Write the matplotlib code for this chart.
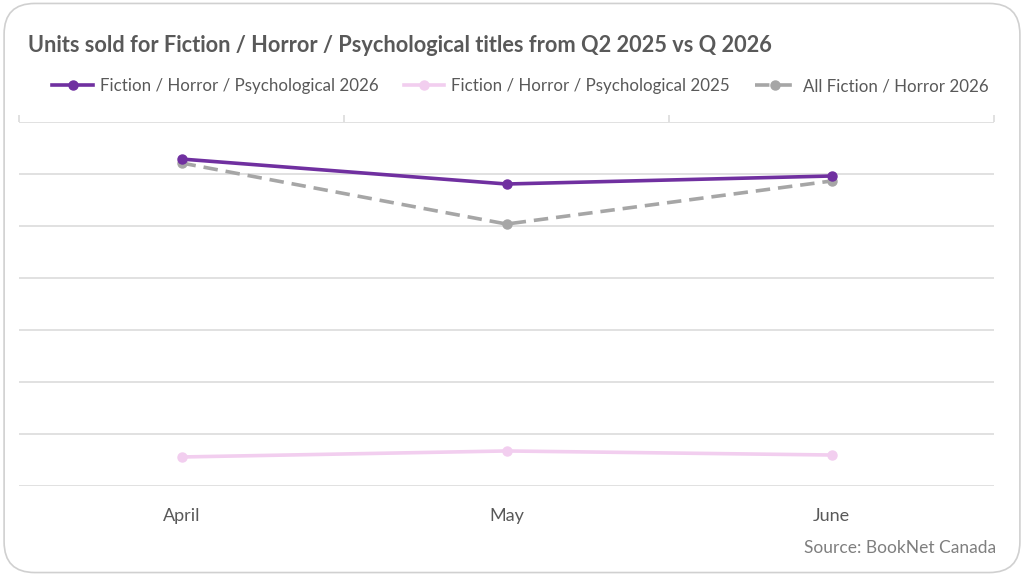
import matplotlib.pyplot as plt
from matplotlib.patches import FancyBboxPatch

months = ["April", "May", "June"]
psych_2026 = [3144, 2904, 2981]
psych_2025 = [279, 337, 298]
all_horror_2026 = [3106, 2519, 2933]

plt.rcParams["font.family"] = ["Lato", "DejaVu Sans"]
text_color = "#595959"
grid_color = "#d9d9d9"

fig = plt.figure(figsize=(10.24, 5.76), dpi=100)

# rounded card border, kept behind the axes
card = FancyBboxPatch((0.004, 0.006), 0.992, 0.988, boxstyle="round,pad=0,rounding_size=0.03",
                      transform=fig.transFigure, facecolor="white", edgecolor="#d0d0d0",
                      linewidth=1.2, mutation_aspect=1024 / 576, zorder=-10)
fig.patches.append(card)

ax = fig.add_axes([0.0186, 0.15625, 0.9521, 0.6319])
ax.set_facecolor("none")
ax.set_zorder(2)

x = range(len(months))
ax.plot(x, psych_2026, color="#7030A0", lw=2.6, marker="o", ms=6.5,
        label="Fiction / Horror / Psychological 2026", zorder=4)
ax.plot(x, psych_2025, color="#F2CEEF", lw=2.6, marker="o", ms=6.5,
        label="Fiction / Horror / Psychological 2025", zorder=3)
ax.plot(x, all_horror_2026, color="#A6A6A6", lw=2.6, marker="o", ms=6.5,
        dashes=(4, 2.2), label="All Fiction / Horror 2026", zorder=3)

ax.set_xlim(-0.5, 2.5)
ax.set_ylim(0, 3500)
ax.set_yticks(range(0, 3501, 500))
ax.yaxis.grid(True, color=grid_color, lw=1.1)
ax.set_axisbelow(True)
ax.tick_params(axis="y", left=False, labelleft=False)
ax.set_xticks(list(x))
ax.set_xticklabels(months, fontsize=13, color=text_color)
ax.tick_params(axis="x", bottom=False, pad=12)
for s in ax.spines.values():
    s.set_visible(False)

top = ax.secondary_xaxis("top")
top.set_xticks([-0.5, 0.5, 1.5, 2.5])
top.tick_params(length=5, color=grid_color, width=1.1, labeltop=False)
for s in top.spines.values():
    s.set_visible(False)

fig.text(28 / 1024, 1 - 45 / 576, "Units sold for Fiction / Horror / Psychological titles from Q2 2025 vs Q 2026",
         fontsize=15.7, fontweight="bold", color=text_color, va="center", ha="left")

fig.legend(loc="center", bbox_to_anchor=(0.508, 1 - 86 / 576), ncol=3, frameon=False,
           fontsize=12.2, labelcolor=text_color, handlelength=2.4, handletextpad=0.4,
           columnspacing=1.5)

fig.text(996 / 1024, 1 - 548 / 576, "Source: BookNet Canada", fontsize=12.5,
         color="#7f7f7f", ha="right", va="center")

fig.savefig("out.png", dpi=100)
